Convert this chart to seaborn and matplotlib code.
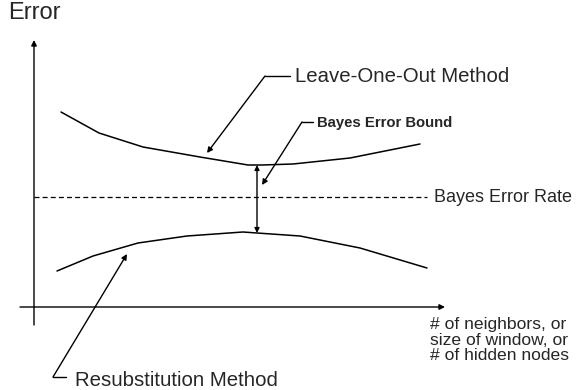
import numpy as np
import pandas as pd
import matplotlib
matplotlib.use("Agg")
import matplotlib.pyplot as plt
import seaborn as sns

# curve samples (x = model size, y = error, arbitrary units)
loo_x = [27, 65, 109, 166, 214, 228, 259, 316, 386]
loo_y = [195, 174, 160, 150, 142, 142, 143, 149, 163]
resub_x = [23, 59, 104, 153, 209, 223, 266, 326, 393]
resub_y = [36, 51, 64, 71, 75, 74, 71, 59, 39]
bayes_rate = 110
bayes_x = [0, 393]
bound_x = 223
bound_lo, bound_hi = 74, 142

xlabel_text = "# of neighbors, or\nsize of window, or\n# of hidden nodes"

sns.set_style("white")
plt.rcParams["font.family"] = ["Liberation Sans", "DejaVu Sans"]

fig = plt.figure(figsize=(5.76, 3.9), dpi=100)
ax = fig.add_axes([0, 0, 1, 1])
ax.set_xlim(-34, 542)
ax.set_ylim(-83, 307)
ax.axis("off")

df = pd.concat([
    pd.DataFrame({"x": loo_x, "y": loo_y, "method": "Leave-One-Out"}),
    pd.DataFrame({"x": resub_x, "y": resub_y, "method": "Resubstitution"}),
])
sns.lineplot(data=df, x="x", y="y", units="method", estimator=None,
             color="black", lw=1.1, ax=ax, legend=False, sort=False)

# Bayes error rate
ax.plot(bayes_x, [bayes_rate, bayes_rate], color="black", lw=0.9, ls=(0, (4, 2.5)))
ax.text(400, bayes_rate - 1, "Bayes Error Rate", fontsize=13, va="center", ha="left")

# axes with arrows
arr = dict(arrowstyle="-|>", color="black", lw=1.0, mutation_scale=8, shrinkA=0, shrinkB=0)
ax.annotate("", xy=(0, 267), xytext=(0, -18), arrowprops=arr)
ax.annotate("", xy=(411, 0), xytext=(-14, 0), arrowprops=arr)
ax.text(-26, 294, "Error", fontsize=17, va="center", ha="left")
ax.text(396, -10, xlabel_text, fontsize=12.6, va="top", ha="left", linespacing=1.05)

# bound double arrow
ax.annotate("", xy=(bound_x, bound_hi), xytext=(bound_x, bound_lo),
            arrowprops=dict(arrowstyle="<|-|>", color="black", lw=1.0,
                            mutation_scale=7, shrinkA=0, shrinkB=0))

# leader labels
ax.plot([231, 256], [231, 231], color="black", lw=1.0)
ax.annotate("", xy=(173, 154), xytext=(231, 231), arrowprops=arr)
ax.text(261, 231, "Leave-One-Out Method", fontsize=14.7, va="center", ha="left")

ax.plot([268, 279], [185, 185], color="black", lw=1.0)
ax.annotate("", xy=(228, 122), xytext=(268, 185), arrowprops=arr)
ax.text(283, 184, "Bayes Error Bound", fontsize=10.7, fontweight="bold",
        va="center", ha="left")

ax.plot([19, 32], [-70, -70], color="black", lw=1.0)
ax.annotate("", xy=(93, 53), xytext=(19, -70), arrowprops=arr)
ax.text(41, -73, "Resubstitution Method", fontsize=14.7, va="center", ha="left")

fig.savefig("out.png", dpi=100)
